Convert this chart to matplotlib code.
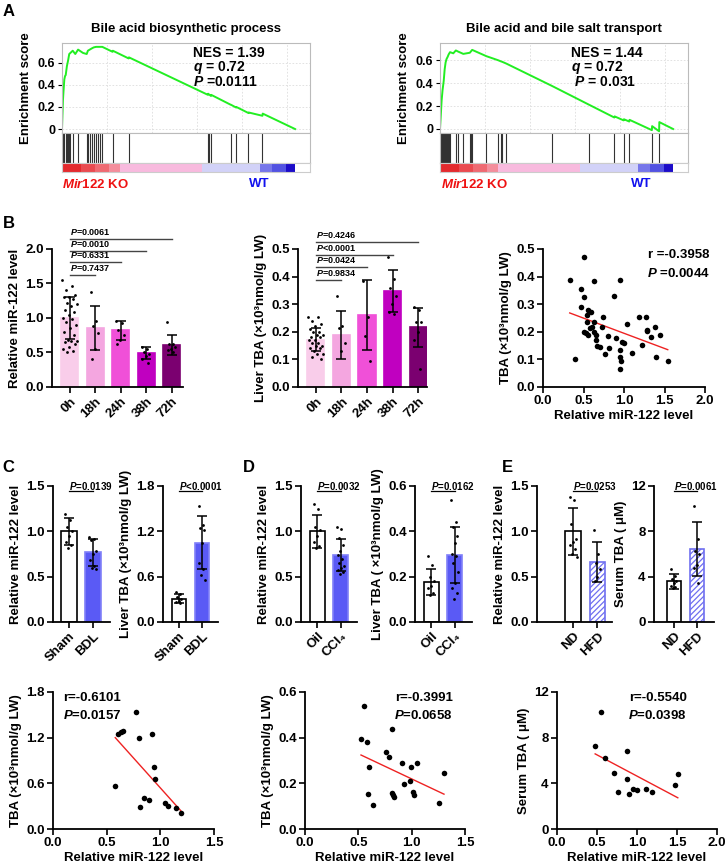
import numpy as np
import matplotlib
matplotlib.use('Agg')
import matplotlib.pyplot as plt

plt.rcParams['font.family'] = ['Liberation Sans', 'DejaVu Sans']
plt.rcParams['font.weight'] = 'bold'
plt.rcParams['axes.labelweight'] = 'bold'
plt.rcParams['axes.titleweight'] = 'bold'
plt.rcParams['mathtext.fontset'] = 'custom'
plt.rcParams['mathtext.it'] = 'Liberation Sans:italic:bold'
plt.rcParams['mathtext.rm'] = 'Liberation Sans:bold'
plt.rcParams['hatch.linewidth'] = 0.9

# ---------------- data ----------------
# GSEA running enrichment score (position in % of ranked list, ES)
bio_pos = [0, 0.4, 0.7, 1.0, 1.3, 1.6, 2.1, 2.6, 3.1, 3.6, 4.6, 5.7, 6.9, 9.0, 10.6, 11.1, 11.9, 12.7, 13.6,
           14.6, 15.4, 16.4, 17.3, 21.7, 21.8, 28.6, 28.7, 62.6, 62.7, 63.9, 64.0, 72.4, 72.5, 74.7, 74.8,
           80.0, 80.1, 86.0, 86.1, 100]
bio_es = [0, 0.26, 0.36, 0.45, 0.48, 0.49, 0.57, 0.62, 0.68, 0.69, 0.71, 0.68, 0.72, 0.69, 0.68, 0.71, 0.72,
          0.73, 0.74, 0.745, 0.745, 0.745, 0.745, 0.70, 0.71, 0.64, 0.65, 0.31, 0.32, 0.30, 0.31, 0.22, 0.22,
          0.195, 0.20, 0.145, 0.15, 0.12, 0.14, 0]
bio_hits = [0.4, 1.0, 1.6, 2.1, 2.6, 3.1, 3.6, 4.6, 6.9, 10.6, 11.1, 11.9, 12.7, 13.6, 14.6, 15.4, 16.4,
            17.3, 21.7, 28.6, 62.6, 63.1, 63.9, 72.4, 74.7, 80.0, 86.0]

tr_pos = [0, 0.3, 0.7, 1.1, 1.6, 2.0, 2.4, 2.8, 3.3, 3.7, 4.3, 5.7, 6.8, 7.8, 10.0, 12.8, 13.2, 13.8, 19.9,
          24.9, 26.1, 26.8, 28.5, 48.1, 64.1, 74.8, 74.9, 78.8, 78.9, 81.2, 81.3, 90.9, 91.0, 94.0, 94.1, 100]
tr_es = [0, 0.105, 0.25, 0.34, 0.42, 0.52, 0.58, 0.61, 0.63, 0.65, 0.67, 0.66, 0.685, 0.675, 0.655, 0.665,
         0.675, 0.69, 0.635, 0.60, 0.59, 0.585, 0.57, 0.375, 0.21, 0.10, 0.11, 0.075, 0.085, 0.065, 0.08,
         -0.01, 0.025, -0.02, 0.06, 0]
tr_hits = [0.3, 0.7, 1.1, 1.6, 2.0, 2.4, 2.8, 3.3, 3.7, 4.3, 6.8, 7.8, 10.0, 12.8, 13.2, 13.8, 19.9, 24.9,
           26.1, 26.8, 28.5, 48.1, 64.1, 74.8, 78.8, 81.2, 90.9, 94.0]

rank_edges = [0, 8, 14, 20, 25, 60, 85, 90, 96, 100]
rank_colors = ['#e42a2e', '#ea4a50', '#ef6a72', '#f48e9c', '#f8bade', '#d2d2f8', '#7676ea', '#5252e2', '#1c0cc8']

# B: liver regeneration time course
times = ['0h', '18h', '24h', '38h', '72h']
b_colors = ['#f9cdea', '#f4a6e0', '#f050d8', '#c000c0', '#7b0070']
mir_mean = [1.0, 0.85, 0.82, 0.49, 0.61]
mir_sd = [0.31, 0.32, 0.14, 0.085, 0.14]
mir_pts = [[1.55, 1.46, 1.40, 1.33, 1.30, 1.30, 1.28, 1.22, 1.20, 1.18, 1.12, 1.08, 1.05, 1.0, 0.98, 0.94,
            0.90, 0.85, 0.80, 0.75, 0.68, 0.67, 0.66, 0.65, 0.62, 0.58, 0.55, 0.52, 0.50],
           [1.38, 0.95, 0.88, 0.78, 0.55, 0.40],
           [0.95, 0.93, 0.82, 0.75, 0.68, 0.62],
           [0.58, 0.55, 0.50, 0.48, 0.45, 0.40, 0.35],
           [0.94, 0.63, 0.62, 0.58, 0.55, 0.53, 0.50]]
mir_p = ['0.7437', '0.6331', '0.0010', '0.0061']
mir_p_y = [1.62, 1.81, 1.97, 2.14]

tba_mean = [0.172, 0.187, 0.26, 0.348, 0.216]
tba_sd = [0.042, 0.087, 0.126, 0.077, 0.07]
tba_pts = [[0.255, 0.255, 0.24, 0.23, 0.22, 0.21, 0.20, 0.20, 0.19, 0.19, 0.18, 0.18, 0.17, 0.17, 0.16,
            0.16, 0.15, 0.15, 0.14, 0.14, 0.13, 0.12, 0.12, 0.11, 0.10],
           [0.33, 0.22, 0.215, 0.16, 0.13],
           [0.385, 0.255, 0.185, 0.095],
           [0.47, 0.39, 0.36, 0.33, 0.30, 0.27, 0.265],
           [0.29, 0.28, 0.235, 0.235, 0.20, 0.17, 0.065]]
tba_p = ['=0.9834', '=0.0424', '<0.0001', '=0.4246']
tba_p_y = [0.388, 0.434, 0.478, 0.524]

bx = [0.33, 0.40, 0.47, 0.50, 0.47, 0.51, 0.50, 0.53, 0.55, 0.54, 0.55, 0.59, 0.54, 0.58, 0.61, 0.63, 0.63,
      0.63, 0.65, 0.65, 0.67, 0.70, 0.73, 0.74, 0.77, 0.80, 0.81, 0.88, 0.90, 0.95, 0.95, 0.95, 0.96, 0.95,
      0.98, 1.00, 1.04, 1.10, 1.18, 1.22, 1.27, 1.28, 1.29, 1.33, 1.38, 1.39, 1.45, 1.54]
by = [0.386, 0.101, 0.356, 0.470, 0.291, 0.325, 0.200, 0.194, 0.188, 0.237, 0.279, 0.273, 0.261, 0.215,
      0.218, 0.237, 0.385, 0.200, 0.188, 0.172, 0.149, 0.146, 0.218, 0.255, 0.121, 0.184, 0.140, 0.331,
      0.176, 0.386, 0.133, 0.109, 0.093, 0.067, 0.164, 0.160, 0.228, 0.124, 0.252, 0.152, 0.252, 0.206,
      0.204, 0.182, 0.216, 0.109, 0.188, 0.093]

# C: BDL
c_groups = ['Sham', 'BDL']
c_mir_mean = [1.0, 0.77]
c_mir_sd = [0.15, 0.15]
c_mir_pts = [[1.19, 1.13, 1.05, 1.0, 0.95, 0.88, 0.85, 0.82], [0.94, 0.92, 0.90, 0.78, 0.75, 0.68, 0.62, 0.60, 0.58]]
c_tba_mean = [0.31, 1.05]
c_tba_sd = [0.06, 0.35]
c_tba_pts = [[0.40, 0.37, 0.33, 0.30, 0.28, 0.26, 0.25], [1.53, 1.28, 1.25, 1.22, 1.05, 0.78, 0.70, 0.62, 0.56]]
cx = [0.77, 0.61, 0.63, 0.65, 0.80, 0.92, 0.94, 0.95, 0.58, 0.85, 0.89, 0.81, 1.04, 1.07, 1.15, 1.19]
cy = [1.54, 1.25, 1.27, 1.29, 1.19, 1.25, 0.81, 0.66, 0.57, 0.405, 0.375, 0.29, 0.34, 0.30, 0.27, 0.21]

# D: CCl4
d_groups = ['Oil', 'CCl\u2084']
d_mir_mean = [1.0, 0.74]
d_mir_sd = [0.18, 0.18]
d_mir_pts = [[1.30, 1.25, 1.05, 1.02, 0.95, 0.88, 0.84, 0.82],
             [1.05, 1.03, 0.93, 0.85, 0.78, 0.74, 0.70, 0.65, 0.62, 0.60, 0.57, 0.55, 0.53]]
d_tba_mean = [0.177, 0.295]
d_tba_sd = [0.057, 0.125]
d_tba_pts = [[0.29, 0.25, 0.20, 0.18, 0.16, 0.15, 0.13, 0.12],
             [0.54, 0.44, 0.42, 0.38, 0.35, 0.30, 0.29, 0.26, 0.22, 0.17, 0.15, 0.13, 0.10]]
dx = [0.556, 0.525, 0.578, 0.819, 0.759, 0.788, 0.603, 0.913, 0.994, 1.047, 1.303, 0.984, 0.928, 0.594,
      0.819, 0.828, 0.838, 1.016, 1.025, 0.641, 1.26]
dy = [0.538, 0.392, 0.381, 0.440, 0.339, 0.314, 0.273, 0.291, 0.273, 0.288, 0.247, 0.212, 0.196, 0.153,
      0.157, 0.147, 0.138, 0.160, 0.147, 0.106, 0.116]

# E: HFD
e_groups = ['ND', 'HFD']
e_mir_mean = [1.0, 0.66]
e_mir_sd = [0.26, 0.22]
e_mir_pts = [[1.38, 1.35, 1.08, 0.92, 0.88, 0.85, 0.80, 0.75, 0.72], [1.02, 0.75, 0.65, 0.58, 0.50, 0.45]]
e_tba_mean = [3.6, 6.45]
e_tba_sd = [0.65, 2.35]
e_tba_pts = [[4.7, 4.1, 3.8, 3.6, 3.4, 3.2, 3.1, 3.0], [10.2, 7.3, 6.3, 6.0, 5.0, 4.8, 3.4]]
ex = [0.477, 0.548, 0.598, 0.714, 0.768, 0.880, 0.880, 0.900, 0.950, 0.996, 1.108, 1.19, 1.48, 1.51]
ey = [7.30, 10.29, 6.25, 4.88, 3.26, 6.83, 4.36, 3.08, 3.52, 3.43, 3.49, 3.23, 3.87, 4.80]

BLUE = '#5a5af5'
TBA_LABEL = 'Liver TBA (\u00d710\u00b3nmol/g LW)'

# ---------------- figure ----------------
W, H = 726, 865
fig = plt.figure(figsize=(W / 100, H / 100), dpi=100)


def box(l, t, r, b):
    return fig.add_axes([l / W, 1 - b / H, (r - l) / W, (b - t) / H])


def ftxt(x, y, s, **kw):
    fig.text(x / W, 1 - y / H, s, **kw)


def style(ax, fs=9.5):
    for s in ['top', 'right']:
        ax.spines[s].set_visible(False)
    for s in ['left', 'bottom']:
        ax.spines[s].set_linewidth(1.3)
    ax.tick_params(direction='out', length=4, width=1.2, labelsize=fs, pad=2)


def gsea(l, r, pos, es, hits, ylim, title, stats, sx, lab_ko, lab_wt):
    ax = box(l, 43, r, 133)
    ax.plot(pos, es, color='#22ee22', lw=1.4)
    ax.set_xlim(0, 106.4)
    ax.set_ylim(*ylim)
    ax.set_yticks([0, 0.2, 0.4, 0.6])
    ax.set_yticklabels(['0', '0.2', '0.4', '0.6'])
    ax.set_xticks(np.arange(1, 6) * 19.3)
    ax.tick_params(axis='x', length=0, labelbottom=False)
    ax.tick_params(axis='y', length=3, labelsize=9, pad=2)
    ax.grid(True, color='#dddddd', lw=0.6, ls=(0, (2, 2)))
    for s in ax.spines.values():
        s.set_color('#bbbbbb')
    ax.set_ylabel('Enrichment score', fontsize=9.5, labelpad=4)
    ax.set_title(title, fontsize=9.5, pad=8, fontweight='bold')
    ax2 = box(l, 133, r, 163)
    ax2.vlines(hits, 0, 1, color='#333333', lw=0.8)
    ax2.set_xlim(0, 106.4)
    ax2.set_ylim(0, 1)
    ax2.set_xticks([])
    ax2.set_yticks([])
    for s in ax2.spines.values():
        s.set_color('#bbbbbb')
    ax3 = box(l, 163, r, 172)
    ax3.broken_barh([(rank_edges[i], rank_edges[i + 1] - rank_edges[i]) for i in range(len(rank_colors))],
                    (0, 1), facecolors=rank_colors)
    ax3.set_xlim(0, 106.4)
    ax3.set_ylim(0, 1)
    ax3.set_xticks([])
    ax3.set_yticks([])
    for s in ax3.spines.values():
        s.set_color('#cccccc')
    for k, t in enumerate(stats):
        ftxt(sx, 53 + 14.5 * k, t, fontsize=10, va='center')
    ftxt(lab_ko, 184, r'$Mir122$ KO', color='#ee1111', fontsize=9.5, va='center')
    ftxt(lab_wt, 184, 'WT', color='#1111ee', fontsize=9.5, va='center')


gsea(62, 310, bio_pos, bio_es, bio_hits, (-0.036, 0.78), 'Bile acid biosynthetic process',
     ['NES = 1.39', r'$q$ = 0.72', r'$P$ =0.0111'], 193, 62, 249)
gsea(440, 688, tr_pos, tr_es, tr_hits, (-0.035, 0.75), 'Bile acid and bile salt transport',
     ['NES = 1.44', r'$q$ = 0.72', r' $P$ = 0.031'], 571, 441, 631)


def bar_panel(ax, means, sds, pts, colors, edges, labels, spread, width=0.65, hatch_idx=None, cap=3.5):
    x = np.arange(len(means))
    bars = ax.bar(x, means, width=width, color=colors, edgecolor=edges, linewidth=1.2, zorder=1)
    if hatch_idx is not None:
        bars[hatch_idx].set_hatch('//////')
        bars[hatch_idx].set_facecolor('white')
    ax.errorbar(x, means, yerr=sds, fmt='none', ecolor='black', elinewidth=1.1, capsize=cap,
                capthick=1.1, zorder=3)
    for i, p in enumerate(pts):
        n = len(p)
        sp = spread[i] if hasattr(spread, '__len__') else spread
        off = (((np.arange(n) * 0.618034) % 1) - 0.5) * sp
        ax.scatter(i + off, p, s=4, color='black', zorder=4, linewidths=0)
    ax.set_xticks(x)
    ax.set_xticklabels(labels, rotation=45, ha='right', rotation_mode='anchor')
    style(ax)


def p_line(ax, text):
    tr = ax.get_xaxis_transform()
    ax.plot([0, 1], [0.963, 0.963], color='black', lw=0.9, transform=tr, clip_on=False)
    ax.text(0, 1.0, text, transform=tr, fontsize=7, va='center', ha='left')


# ---- B left
ax = box(52, 249, 183, 387)
bar_panel(ax, mir_mean, mir_sd, mir_pts, b_colors, b_colors, times, [0.6, 0.35, 0.35, 0.35, 0.35], width=0.67)
ax.set_xlim(-0.7, 4.45)
ax.set_ylim(0, 2.0)
ax.set_yticks([0, 0.5, 1.0, 1.5, 2.0])
ax.set_yticklabels(['0.0', '0.5', '1.0', '1.5', '2.0'])
ax.set_ylabel('Relative miR-122 level', fontsize=9.5, labelpad=3)
for j, (pv, yv) in enumerate(zip(mir_p, mir_p_y)):
    ax.plot([0, j + 1], [yv, yv], color='#444444', lw=1, clip_on=False)
    ax.text(0, yv + 0.03, r'$P$=' + pv, fontsize=6.5, va='bottom', ha='left')

# ---- B middle
ax = box(298, 249, 427, 387)
bar_panel(ax, tba_mean, tba_sd, tba_pts, b_colors, b_colors, times, [0.6, 0.35, 0.35, 0.35, 0.35], width=0.67)
ax.set_xlim(-0.7, 4.35)
ax.set_ylim(0, 0.5)
ax.set_yticks([0, 0.1, 0.2, 0.3, 0.4, 0.5])
ax.set_yticklabels(['0.0', '0.1', '0.2', '0.3', '0.4', '0.5'])
ax.set_ylabel(TBA_LABEL, fontsize=9.5, labelpad=3)
for j, (pv, yv) in enumerate(zip(tba_p, tba_p_y)):
    ax.plot([0, j + 1], [yv, yv], color='#444444', lw=1, clip_on=False)
    ax.text(0, yv + 0.008, r'$P$' + pv, fontsize=6.5, va='bottom', ha='left')


def scatter_panel(ax, x, y, xlim, xticks, ylim, yticks, ylabel, tx, ha, r_txt, p_txt, ylfs=9.5):
    ax.scatter(x, y, s=16, color='black', zorder=3, linewidths=0)
    k, c = np.polyfit(x, y, 1)
    xs = np.array([min(x), max(x)])
    ax.plot(xs, k * xs + c, color='#ee2222', lw=1)
    ax.set_xlim(*xlim)
    ax.set_ylim(*ylim)
    ax.set_xticks(xticks)
    ax.set_xticklabels(['%.1f' % v for v in xticks])
    ax.set_yticks(yticks)
    style(ax, 9.5)
    ax.set_xlabel('Relative miR-122 level', fontsize=9.5, labelpad=2)
    ax.set_ylabel(ylabel, fontsize=ylfs, labelpad=3)
    ax.text(tx, 0.955, r_txt, transform=ax.transAxes, fontsize=9.5, ha=ha, va='center')
    ax.text(tx, 0.825, p_txt, transform=ax.transAxes, fontsize=9.5, ha=ha, va='center')


# ---- B right
ax = box(543, 249, 705, 387)
scatter_panel(ax, bx, by, (0, 2.0), [0, 0.5, 1.0, 1.5, 2.0], (0, 0.5), [0, 0.1, 0.2, 0.3, 0.4, 0.5],
              'TBA (\u00d710\u00b3nmol/g LW)', 1.03, 'right', 'r =-0.3958', r'$P$ =0.0044')
ax.set_yticklabels(['0.0', '0.1', '0.2', '0.3', '0.4', '0.5'])

# ---- C
ax = box(53, 486, 110, 622)
bar_panel(ax, c_mir_mean, c_mir_sd, c_mir_pts, ['white', BLUE], ['black', '#8080f8'], c_groups, 0.3)
ax.set_xlim(-0.67, 1.71)
ax.set_ylim(0, 1.5)
ax.set_yticks([0, 0.5, 1.0, 1.5])
ax.set_yticklabels(['0.0', '0.5', '1.0', '1.5'])
ax.set_ylabel('Relative miR-122 level', fontsize=9.5, labelpad=3)
p_line(ax, r'$P$=0.0139')

ax = box(163, 486, 218, 622)
bar_panel(ax, c_tba_mean, c_tba_sd, c_tba_pts, ['white', BLUE], ['black', '#8080f8'], c_groups, 0.3)
ax.set_xlim(-0.7, 1.7)
ax.set_ylim(0, 1.8)
ax.set_yticks([0, 0.6, 1.2, 1.8])
ax.set_yticklabels(['0.0', '0.6', '1.2', '1.8'])
ax.set_ylabel(TBA_LABEL, fontsize=9.5, labelpad=3)
p_line(ax, r'$P$<0.0001')

ax = box(53, 692, 214, 829)
scatter_panel(ax, cx, cy, (0, 1.5), [0, 0.5, 1.0, 1.5], (0, 1.8), [0, 0.6, 1.2, 1.8],
              'TBA (\u00d710\u00b3nmol/g LW)', 0.06, 'left', 'r=-0.6101', r'$P$=0.0157')
ax.set_yticklabels(['0.0', '0.6', '1.2', '1.8'])

# ---- D
ax = box(301, 486, 357, 622)
bar_panel(ax, d_mir_mean, d_mir_sd, d_mir_pts, ['white', BLUE], ['black', '#8080f8'], d_groups, 0.3)
ax.set_xlim(-0.7, 1.7)
ax.set_ylim(0, 1.5)
ax.set_yticks([0, 0.5, 1.0, 1.5])
ax.set_yticklabels(['0.0', '0.5', '1.0', '1.5'])
ax.set_ylabel('Relative miR-122 level', fontsize=9.5, labelpad=3)
p_line(ax, r'$P$=0.0032')

ax = box(415, 486, 472, 622)
bar_panel(ax, d_tba_mean, d_tba_sd, d_tba_pts, ['white', BLUE], ['black', '#8080f8'], d_groups, 0.3)
ax.set_xlim(-0.7, 1.74)
ax.set_ylim(0, 0.6)
ax.set_yticks([0, 0.2, 0.4, 0.6])
ax.set_yticklabels(['0.0', '0.2', '0.4', '0.6'])
ax.set_ylabel('Liver TBA ( \u00d710\u00b3nmol/g LW)', fontsize=9.5, labelpad=3)
p_line(ax, r'$P$=0.0162')

ax = box(305, 692, 465, 829)
scatter_panel(ax, dx, dy, (0, 1.5), [0, 0.5, 1.0, 1.5], (0, 0.6), [0, 0.2, 0.4, 0.6],
              'TBA (\u00d710\u00b3nmol/g LW)', 0.925, 'right', 'r=-0.3991', r'$P$=0.0658')
ax.set_yticklabels(['0.0', '0.2', '0.4', '0.6'])

# ---- E
ax = box(537, 486, 612, 622)
bar_panel(ax, e_mir_mean, e_mir_sd, e_mir_pts, ['white', 'white'], ['black', '#6f6ff0'], e_groups, 0.3,
          hatch_idx=1)
ax.set_xlim(-1.5, 1.6)
ax.set_ylim(0, 1.5)
ax.set_yticks([0, 0.5, 1.0, 1.5])
ax.set_yticklabels(['0.0', '0.5', '1.0', '1.5'])
ax.set_ylabel('Relative miR-122 level', fontsize=9.5, labelpad=3)
p_line(ax, r'$P$=0.0253')

ax = box(654, 486, 714, 622)
bar_panel(ax, e_tba_mean, e_tba_sd, e_tba_pts, ['white', 'white'], ['black', '#6f6ff0'], e_groups, 0.3,
          hatch_idx=1)
ax.set_xlim(-0.87, 1.74)
ax.set_ylim(0, 12)
ax.set_yticks([0, 4, 8, 12])
ax.set_ylabel('Serum TBA ( \u03bcM)', fontsize=9.5, labelpad=3)
p_line(ax, r'$P$=0.0061')

ax = box(557, 692, 717, 829)
scatter_panel(ax, ex, ey, (0, 2.0), [0, 0.5, 1.0, 1.5, 2.0], (0, 12), [0, 4, 8, 12],
              'Serum TBA ( \u03bcM)', 0.81, 'right', 'r=-0.5540', r'$P$=0.0398')

# panel letters
for lab, x, y in [('A', 3, 12), ('B', 3, 223), ('C', 2, 467), ('D', 243, 467), ('E', 502, 467)]:
    ftxt(x, y, lab, fontsize=12, va='center', ha='left')

fig.savefig('out.png', dpi=100)
